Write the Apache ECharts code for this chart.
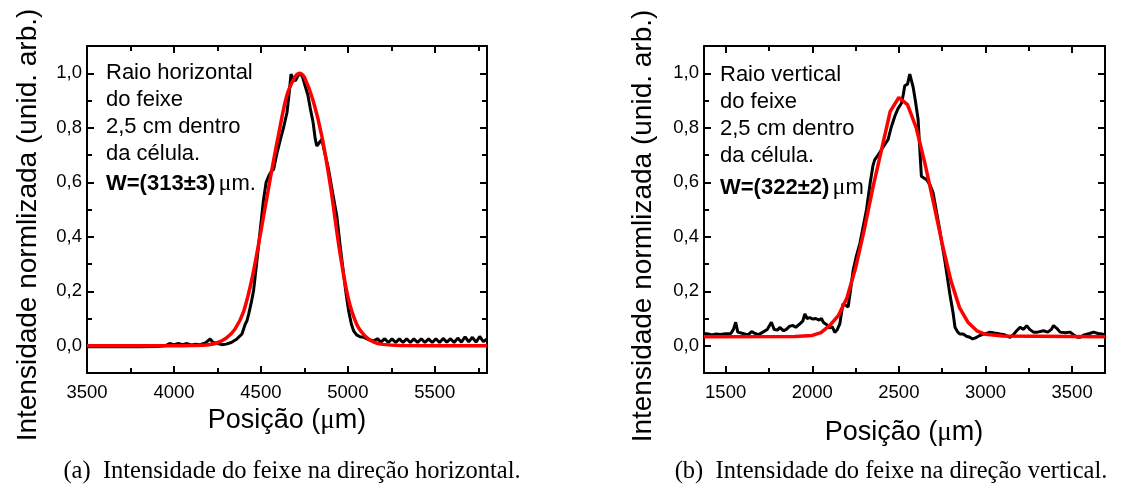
<!DOCTYPE html>
<html>
<head>
<meta charset="utf-8">
<script src="https://cdn.jsdelivr.net/npm/echarts@6/dist/echarts.min.js"></script>
<style>
html,body{margin:0;padding:0;background:#fff;}
#c{width:1127px;height:494px;}
</style>
</head>
<body>
<div id="c"></div>
<script>
// ---- data: horizontal beam (a) ----
const hPos = [3500,3600,3700,3800,3900,3950,3975,4000,4025,4050,4075,4100,4125,4150,
  4180,4208,4225,4250,4275,4300,4330,4362,4391,4410,
  4420,4430,4445,4458,4475,4496,4515,4530,4544,4560,
  4573,4590,4612,4630,4650,4663,4673,4685,4698,4712,
  4727,4740,4754,4770,4783,4800,4812,4821,4835,4850,
  4870,4889,4910,4937,4955,4975,4990,5004,5020,5033,
  5050,5070,5092,5120,5150,
  5170,5190,5212,5233,5254,5275,5296,5317,5338,5359,
  5380,5401,5422,5443,5464,5485,5506,5527,5548,5569,
  5590,5611,5632,5653,5674,5695,5716,5737,5758,5779,5800];
const hMeas = [-0.004,-0.004,-0.003,-0.004,-0.003,0.0,0.008,0.004,0.008,0.004,0.008,0.003,0.006,0.004,
  0.01,0.025,0.012,0.008,0.004,0.006,0.012,0.025,0.043,0.08,
  0.092,0.117,0.16,0.203,0.3,0.425,0.536,0.6,0.622,0.64,
  0.647,0.7,0.757,0.8,0.856,0.93,0.997,0.98,0.972,0.99,
  1.0,0.985,0.954,0.92,0.874,0.82,0.76,0.733,0.745,0.757,
  0.7,0.647,0.57,0.474,0.37,0.265,0.19,0.129,0.08,0.055,
  0.04,0.033,0.031,0.022,0.018,
  0.026,0.013,0.026,0.012,0.025,0.012,0.025,0.012,0.026,0.012,
  0.025,0.012,0.026,0.012,0.025,0.012,0.026,0.012,0.027,0.013,
  0.026,0.012,0.028,0.013,0.033,0.014,0.031,0.013,0.034,0.015,0.025];
const hFitPos = [3500,4000,4100,4200,4250,4300,4350,4400,4450,4500,
  4550,4600,4650,4700,4725,4750,4800,4850,4900,4950,
  5000,5050,5100,5150,5200,5300,5800];
const hFit = [0.0,0.0,0.001,0.004,0.011,0.028,0.06,0.125,0.25,0.42,
  0.6,0.77,0.92,0.99,1.0,0.985,0.9,0.77,0.585,0.36,
  0.18,0.08,0.035,0.013,0.005,0.001,0.0];

// ---- data: vertical beam (b) ----
const vPos = [1375,1400,1420,1445,1470,1500,1530,1545,1558,1570,
  1600,1629,1650,1670,1690,1715,1740,1764,1780,1800,
  1812,1835,1850,1870,1889,1905,1928,1945,1957,1970,
  1985,2005,2020,2040,2053,2065,2082,2100,2115,2130,
  2145,2159,2168,2178,2190,2207,2220,2236,2255,2275,
  2295,2313,2335,2350,2361,2380,2400,2420,2438,2455,
  2477,2495,2515,2525,2534,2550,2563,2572,2582,2595,
  2611,2620,2630,2645,2659,2680,2698,2715,2736,2750,
  2765,2780,2794,2805,2813,2824,2840,2853,2871,2890,
  2910,2925,2939,2960,2987,3005,3026,3050,3084,3110,
  3142,3160,3180,3200,3220,3238,3255,3277,3300,3335,
  3360,3380,3393,3410,3431,3460,3489,3510,3530,3547,
  3570,3600,3624,3650,3672,3690];
const vMeas = [0.045,0.043,0.04,0.043,0.041,0.044,0.045,0.06,0.086,0.05,
  0.045,0.04,0.052,0.045,0.041,0.05,0.06,0.086,0.06,0.058,
  0.067,0.055,0.06,0.072,0.074,0.068,0.08,0.09,0.117,0.1,
  0.103,0.098,0.1,0.094,0.1,0.085,0.078,0.065,0.07,0.049,
  0.06,0.08,0.117,0.154,0.15,0.142,0.2,0.277,0.33,0.376,
  0.44,0.499,0.6,0.66,0.683,0.7,0.72,0.74,0.757,0.8,
  0.843,0.87,0.89,0.92,0.954,0.96,0.997,0.99,0.95,0.9,
  0.831,0.73,0.622,0.615,0.61,0.59,0.56,0.5,0.425,0.37,
  0.314,0.25,0.191,0.15,0.12,0.068,0.05,0.043,0.043,0.035,
  0.031,0.025,0.028,0.035,0.043,0.045,0.05,0.047,0.043,0.04,
  0.031,0.04,0.055,0.068,0.06,0.074,0.06,0.05,0.05,0.055,
  0.05,0.06,0.074,0.065,0.05,0.048,0.05,0.04,0.031,0.031,
  0.04,0.045,0.05,0.045,0.043,0.04];
const vFitPos = [1375,1900,2000,2050,2100,2150,2200,2250,2300,2350,2400,2450,2500,
  2550,2600,2650,2700,2750,2800,2850,2900,2950,3000,3100,3690];
const vFit = [0.033,0.034,0.038,0.048,0.074,0.11,0.175,0.285,0.425,0.58,0.72,0.86,0.911,
  0.885,0.8,0.67,0.525,0.375,0.24,0.14,0.085,0.055,0.042,0.036,0.033];

// ---- axes / ticks ----
const hRange = [3500, 5800];
const vRange = [1375, 3690];
const hMajor = [3500,4000,4500,5000,5500];
const hMinor = [3750,4250,4750,5250,5750];
const vMajor = [1500,2000,2500,3000,3500];
const vMinor = [1750,2250,2750,3250];
const yRange = [-0.1, 1.1];
const yMajor = [0.0,0.2,0.4,0.6,0.8,1.0];
const yMinor = [0.1,0.3,0.5,0.7,0.9];

const xTitle = 'Posição (μm)';
const yTitle = 'Intensidade normlizada (unid. arb.)';
const capA = '(a)  Intensidade do feixe na direção horizontal.';
const capB = '(b)  Intensidade do feixe na direção vertical.';
const noteA = ['Raio horizontal','do feixe','2,5 cm dentro','da célula.'];
const noteB = ['Raio vertical','do feixe','2,5 cm dentro','da célula.'];
const wA = ['W=(313±3)', 'm.'];
const wB = ['W=(322±2)', 'm'];

const SANS = 'Liberation Sans, Arial, sans-serif';
const SERIF = 'Liberation Serif, Times New Roman, serif';

function zip(a, b) { return a.map((v, i) => [v, b[i]]); }

const grids = [
  {left: 87, top: 46, width: 400, height: 327},
  {left: 704, top: 46, width: 401, height: 327}
];

const xAxes = [], yAxes = [];
function addX(g, range, vals, pos, len, labels, lineShow) {
  xAxes.push({
    type: 'value', gridIndex: g, min: range[0], max: range[1], position: pos,
    axisLine: {show: lineShow, onZero: false, lineStyle: {color: '#000', width: 2}},
    axisTick: {show: true, inside: true, length: len, customValues: vals, lineStyle: {color: '#000', width: 2}},
    axisLabel: labels ? {show: true, customValues: vals, margin: 10, color: '#000', fontSize: 18.5, fontFamily: SANS,
      formatter: v => String(v)} : {show: false},
    splitLine: {show: false}
  });
  return xAxes.length - 1;
}
function addY(g, vals, pos, len, labels, lineShow) {
  yAxes.push({
    type: 'value', gridIndex: g, min: yRange[0], max: yRange[1], position: pos,
    axisLine: {show: lineShow, onZero: false, lineStyle: {color: '#000', width: 2}},
    axisTick: {show: true, inside: true, length: len, customValues: vals, lineStyle: {color: '#000', width: 2}},
    axisLabel: labels ? {show: true, customValues: vals, margin: 5, color: '#000', fontSize: 18.5, fontFamily: SANS,
      formatter: v => v.toFixed(1).replace('.', ',')} : {show: false},
    splitLine: {show: false}
  });
  return yAxes.length - 1;
}

const panels = [
  {range: hRange, major: hMajor, minor: hMinor, meas: zip(hPos, hMeas), fit: zip(hFitPos, hFit), smooth: 0.3},
  {range: vRange, major: vMajor, minor: vMinor, meas: zip(vPos, vMeas), fit: zip(vFitPos, vFit), smooth: false}
];
const series = [];
panels.forEach((p, g) => {
  const xi = addX(g, p.range, p.major, 'bottom', 7, true, true);
  addX(g, p.range, p.minor, 'bottom', 5, false, false);
  addX(g, p.range, p.major, 'top', 7, false, true);
  addX(g, p.range, p.minor, 'top', 5, false, false);
  const yi = addY(g, yMajor, 'left', 7, true, true);
  addY(g, yMinor, 'left', 5, false, false);
  addY(g, yMajor, 'right', 7, false, true);
  addY(g, yMinor, 'right', 5, false, false);
  series.push({type: 'line', xAxisIndex: xi, yAxisIndex: yi, data: p.meas, showSymbol: false,
    lineStyle: {color: '#000', width: 3}, itemStyle: {color: '#000'}, z: 2, animation: false});
  series.push({type: 'line', xAxisIndex: xi, yAxisIndex: yi, data: p.fit, showSymbol: false, smooth: p.smooth,
    lineStyle: {color: '#ff0000', width: 3.5}, itemStyle: {color: '#ff0000'}, z: 3, animation: false});
});

function txt(x, y, text, opt) {
  return Object.assign({type: 'text', x: x, y: y, silent: true,
    style: Object.assign({text: text, fill: '#000', font: '22px ' + SANS, align: 'left', verticalAlign: 'middle'}, opt || {})});
}
function wLine(x, y, w) {
  return {type: 'text', x: x, y: y, silent: true, style: {
    text: '{b|' + w[0] + '} {m|μ}{n|' + w[1] + '}', align: 'left', verticalAlign: 'middle', fill: '#000',
    rich: {
      b: {fontFamily: SANS, fontWeight: 'bold', fontSize: 22, fill: '#000'},
      m: {fontFamily: SERIF, fontSize: 24, fill: '#000'},
      n: {fontFamily: SANS, fontSize: 22, fill: '#000'}
    }}};
}
function xTitleEl(x, y) {
  const parts = xTitle.split('μ');
  return {type: 'text', x: x, y: y, silent: true, style: {
    text: '{a|' + parts[0] + '}{m|μ}{a|' + parts[1] + '}', align: 'center', verticalAlign: 'middle',
    rich: {a: {fontFamily: SANS, fontSize: 27, fill: '#000'}, m: {fontFamily: SERIF, fontSize: 27, fill: '#000'}}}};
}
function yTitleEl(x, y) {
  return {type: 'text', x: x, y: y, rotation: Math.PI / 2, silent: true, style: {
    text: yTitle, font: '28px ' + SANS, fill: '#000', align: 'center', verticalAlign: 'middle'}};
}

const graphics = [];
const lineYA = [73, 100, 127, 154], lineYB = [75, 102, 129, 156];
noteA.forEach((t, i) => graphics.push(txt(106, lineYA[i], t)));
noteB.forEach((t, i) => graphics.push(txt(720, lineYB[i], t)));
graphics.push(wLine(106, 184, wA));
graphics.push(wLine(720, 188, wB));
graphics.push(xTitleEl(287, 421));
graphics.push(xTitleEl(904, 433));
graphics.push(yTitleEl(28, 225));
graphics.push(yTitleEl(643, 226));
graphics.push(txt(292, 472, capA, {font: '24.5px ' + SERIF, align: 'center'}));
graphics.push(txt(891, 472, capB, {font: '24.5px ' + SERIF, align: 'center'}));

const chart = echarts.init(document.getElementById('c'), null, {renderer: 'canvas'});
chart.setOption({
  animation: false,
  backgroundColor: '#fff',
  grid: grids,
  xAxis: xAxes,
  yAxis: yAxes,
  series: series,
  graphic: graphics
});
</script>
</body>
</html>
